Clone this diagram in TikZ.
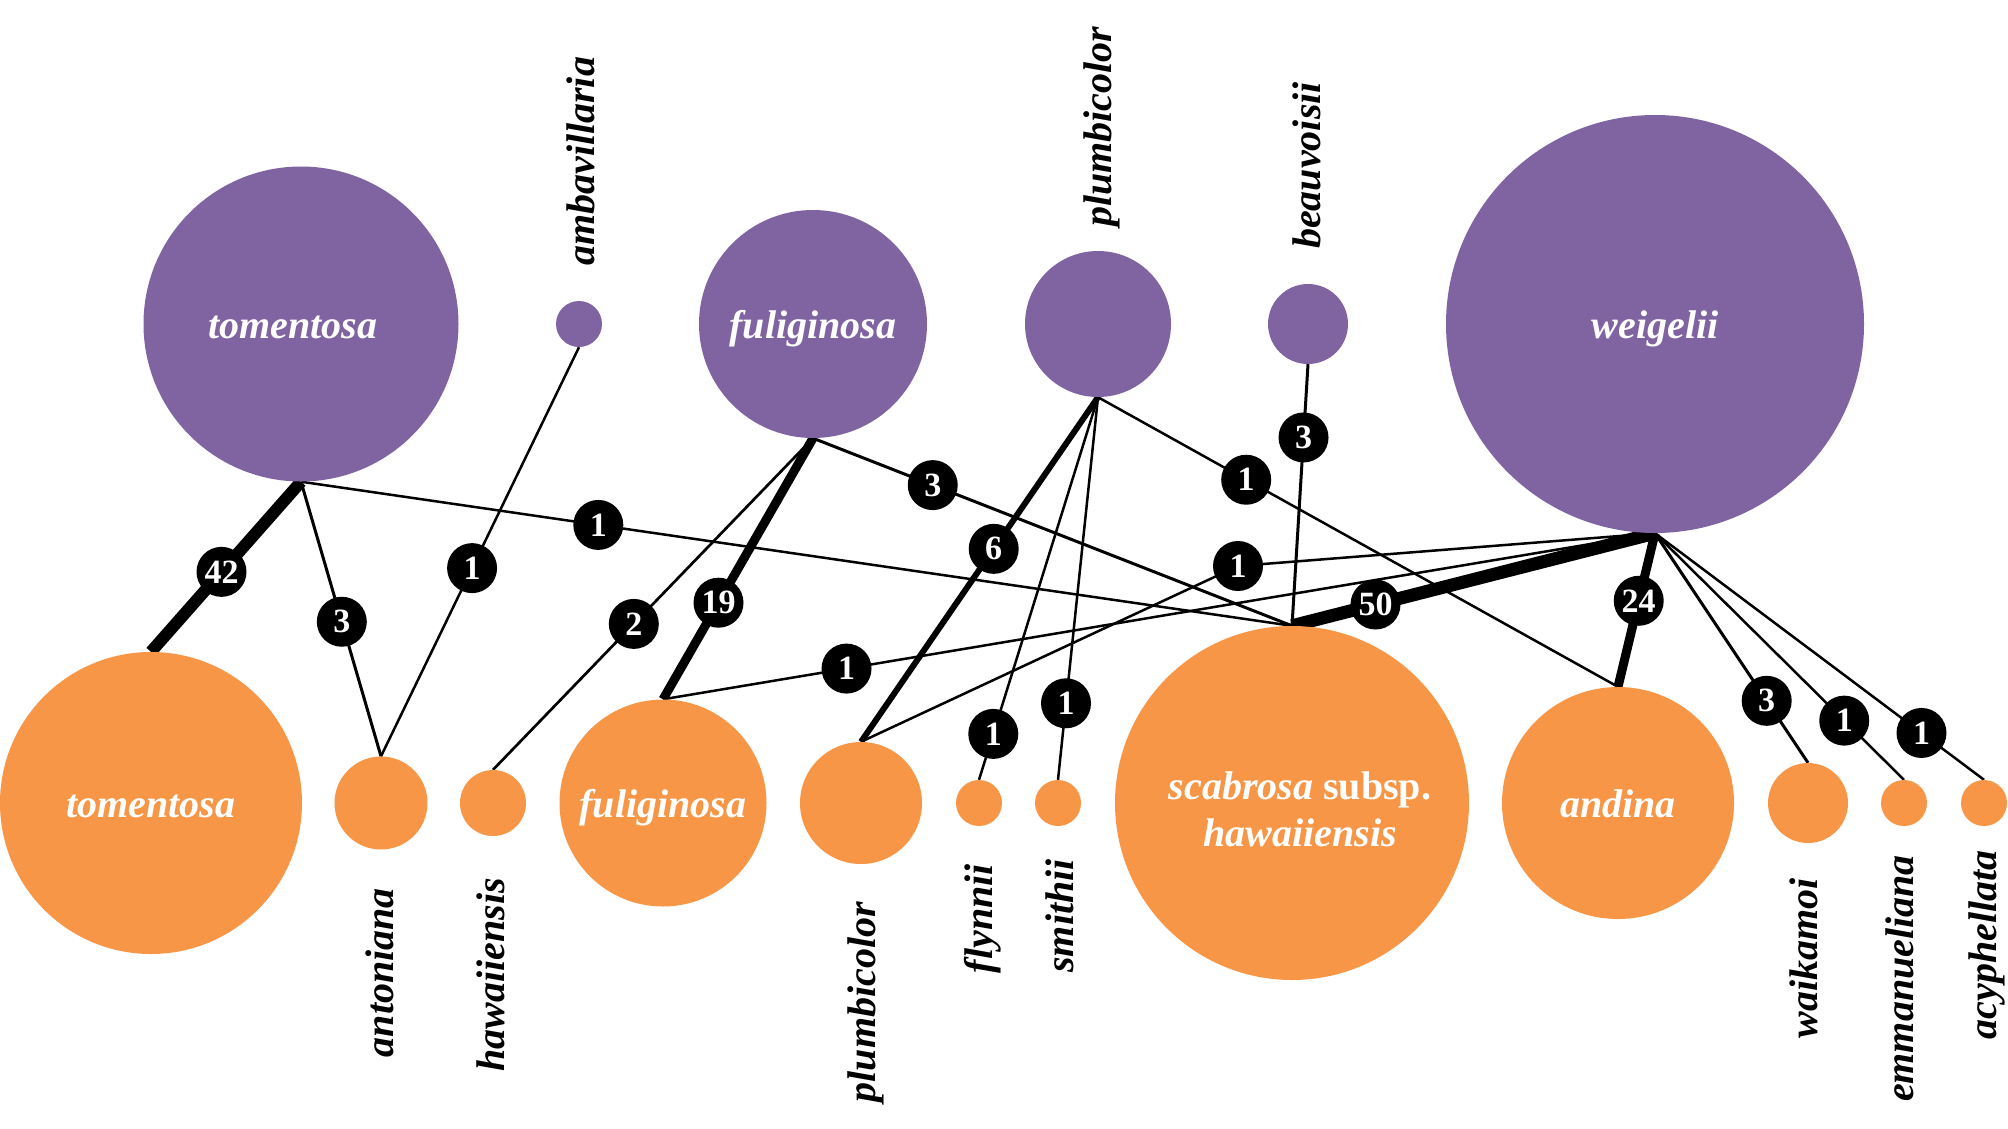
\documentclass[tikz,border=0pt]{standalone}
\usepackage{fontspec}
\setmainfont{Liberation Serif}
\definecolor{purp}{HTML}{8064A2}
\definecolor{orng}{HTML}{F79646}
\pgfdeclarelayer{edges}
\pgfsetlayers{edges,main}
\tikzset{
  pnode/.style={circle, fill=purp, draw=none, inner sep=0pt, text=white,
    font=\fontsize{40}{42}\selectfont\bfseries\itshape, text height=28pt, text depth=0pt},
  onode/.style={circle, fill=orng, draw=none, inner sep=0pt, text=white,
    font=\fontsize{40}{42}\selectfont\bfseries\itshape, text height=28pt, text depth=0pt},
  ctext/.style={inner sep=0pt, text=white, align=center,
    font=\fontsize{40}{47}\selectfont\bfseries\itshape},
  lbl/.style={circle, fill=black, draw=none, inner sep=0pt, minimum size=50pt, text=white,
    font=\fontsize{34}{36}\selectfont\bfseries},
  vlab/.style={rotate=90, inner sep=0pt, text=black,
    font=\fontsize{40}{42}\selectfont\bfseries\itshape},
  w1/.style={line width=2.5pt, black},
  w2/.style={line width=2.7pt, black},
  w3/.style={line width=3pt, black},
  w6/.style={line width=6pt, black},
  w19/.style={line width=9pt, black},
  w24/.style={line width=9pt, black},
  w42/.style={line width=12pt, black},
  w50/.style={line width=13pt, black}
}
\begin{document}
\begin{tikzpicture}[x=1pt,y=-1pt]
\useasboundingbox (0,0) rectangle (2008,1128);
% purple (top row)
\node[pnode,minimum size=315pt] (ptom) at (301,324) {\hspace*{-16pt}tomentosa};
\node[pnode,minimum size=46pt]  (pamb) at (579,324) {};
\node[pnode,minimum size=228pt] (pful) at (813,324) {fuliginosa};
\node[pnode,minimum size=146pt] (pplu) at (1098,324) {};
\node[pnode,minimum size=80pt]  (pbea) at (1308,324) {};
\node[pnode,minimum size=418pt] (pwei) at (1655,324) {weigelii};
% orange (bottom row)
\node[onode,minimum size=302pt] (otom) at (151,803) {tomentosa};
\node[onode,minimum size=93pt]  (oant) at (381,803) {};
\node[onode,minimum size=66pt]  (ohaw) at (493,803) {};
\node[onode,minimum size=207pt] (oful) at (663,803) {fuliginosa};
\node[onode,minimum size=122pt] (oplu) at (861,803) {};
\node[onode,minimum size=46pt]  (ofly) at (979,803) {};
\node[onode,minimum size=46pt]  (osmi) at (1058,803) {};
\node[onode,minimum size=354pt] (osca) at (1292,803) {};
\node[ctext] (tsca) at (1300,809) {scabrosa \textup{subsp.}\\hawaiiensis};
\node[onode,minimum size=232pt] (oand) at (1618,803) {andina};
\node[onode,minimum size=80pt]  (owai) at (1808,803) {};
\node[onode,minimum size=46pt]  (oemm) at (1904,803) {};
\node[onode,minimum size=46pt]  (oacy) at (1984,803) {};
% edges
\begin{pgfonlayer}{edges}
\draw[w42] (ptom.south) -- coordinate[pos=.53] (c1) (otom.north);
\draw[w3]  (ptom.south) -- coordinate[pos=.51] (c2) (oant.north);
\draw[w1]  (ptom.south) -- coordinate[pos=.30] (c3) (osca.north);
\draw[w1]  (pamb.south) -- coordinate[pos=.54] (c4) (oant.north);
\draw[w2]  (pful.south) -- coordinate[pos=.56] (c5) (ohaw.north);
\draw[w19] (pful.south) -- coordinate[pos=.63] (c6) (oful.north);
\draw[w3]  (pful.south) -- coordinate[pos=.25] (c7) (osca.north);
\draw[w6]  (pplu.south) -- coordinate[pos=.44] (c8) (oplu.north);
\draw[w1]  (pplu.south) -- coordinate[pos=.88] (c9) (ofly.north);
\draw[w1]  (pplu.south) -- coordinate[pos=.80] (c10) (osmi.north);
\draw[w1]  (pplu.south) -- coordinate[pos=.285] (c11) (oand.north);
\draw[w3]  (pbea.south) -- coordinate[pos=.28] (c12) (osca.north);
\draw[w50] (pwei.south) -- coordinate[pos=.77] (c13) (osca.north);
\draw[w24] (pwei.south) -- coordinate[pos=.44] (c14) (oand.north);
\draw[w1]  (pwei.south) -- coordinate[pos=.815] (c15) (oful.north);
\coordinate (c16) at (1238,566);
\draw[w1]  (pwei.south) -- (c16) -- (oplu.north);
\draw[w3]  (pwei.south) -- coordinate[pos=.73] (c17) (owai.north);
\draw[w1]  (pwei.south) -- coordinate[pos=.76] (c18) (oemm.north);
\draw[w1]  (pwei.south) -- coordinate[pos=.81] (c19) (oacy.north);
\end{pgfonlayer}
% edge labels
\node[lbl] (n1) at (c1) {42};
\node[lbl] (n2) at (c2) {3};
\node[lbl] (n3) at (c3) {1};
\node[lbl] (n4) at (c4) {1};
\node[lbl] (n5) at (c5) {2};
\node[lbl] (n6) at (c6) {19};
\node[lbl] (n7) at (c7) {3};
\node[lbl] (n8) at (c8) {6};
\node[lbl] (n9) at (c9) {1};
\node[lbl] (n10) at (c10) {1};
\node[lbl] (n11) at (c11) {1};
\node[lbl] (n12) at (c12) {3};
\node[lbl] (n13) at (c13) {50};
\node[lbl] (n14) at (c14) {24};
\node[lbl] (n15) at (c15) {1};
\node[lbl] (n16) at (c16) {1};
\node[lbl] (n17) at (c17) {3};
\node[lbl] (n18) at (c18) {1};
\node[lbl] (n19) at (c19) {1};
% vertical names
\node[vlab,anchor=base west] (tamb) at (594,266) {ambavillaria};
\node[vlab,anchor=base west] (tplu) at (1111,227) {plumbicolor};
\node[vlab,anchor=base west] (tbea) at (1320,249) {beauvoisii};
\node[vlab,anchor=base east] (tant) at (393,888) {antoniana};
\node[vlab,anchor=base east] (thaw) at (504,878) {hawaiiensis};
\node[vlab,anchor=base east] (tplb) at (875,902) {plumbicolor};
\node[vlab,anchor=base east] (tfly) at (992,864) {flynnii};
\node[vlab,anchor=base east] (tsmi) at (1073,859) {smithii};
\node[vlab,anchor=base east] (twai) at (1817,878) {waikamoi};
\node[vlab,anchor=base east] (temm) at (1913,855) {emmanueliana};
\node[vlab,anchor=base east] (tacy) at (1996,850) {acyphellata};
\end{tikzpicture}
\end{document}
